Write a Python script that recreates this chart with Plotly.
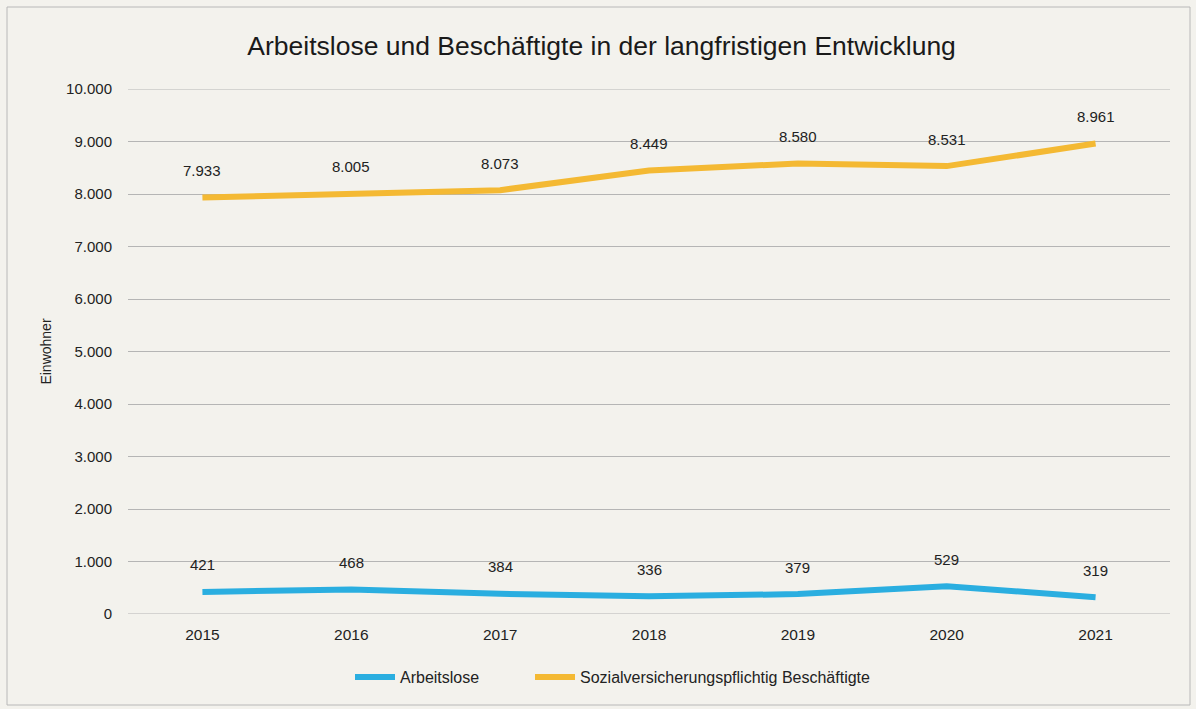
import plotly.graph_objects as go

years = ["2015", "2016", "2017", "2018", "2019", "2020", "2021"]
arbeitslose = [421, 468, 384, 336, 379, 529, 319]
beschaeftigte = [7933, 8005, 8073, 8449, 8580, 8531, 8961]
y_ticks = [0, 1000, 2000, 3000, 4000, 5000, 6000, 7000, 8000, 9000, 10000]


def de_fmt(v):
    return f"{v:,}".replace(",", ".")


W, H = 1196, 709
L, R, T, B = 128, 26, 89, 95

blue = "#2aaee0"
yellow = "#f4b933"
grid = "#b5b5b5"

fig = go.Figure()
fig.add_trace(go.Scatter(x=years, y=arbeitslose, mode="lines", name="Arbeitslose",
                         line=dict(color=blue, width=6), legend="legend"))
fig.add_trace(go.Scatter(x=years, y=beschaeftigte, mode="lines",
                         name="Sozialversicherungspflichtig Beschäftigte",
                         line=dict(color=yellow, width=6), legend="legend2"))

# value labels above each point (category index as x position)
annotations = []
for series in (arbeitslose, beschaeftigte):
    for i, v in enumerate(series):
        annotations.append(dict(x=i, y=v, xref="x", yref="y", text=de_fmt(v),
                                showarrow=False, yshift=27,
                                font=dict(size=15, color="#222")))

pw = W - L - R
ph = H - T - B
shapes = [
    # thin frame around the chart area
    dict(type="rect", xref="paper", yref="paper",
         x0=(7 - L) / pw, x1=(W - 6 - L) / pw,
         y0=-(H - 4 - T - ph) / ph, y1=(H - 7 - B) / ph,
         line=dict(color="#b8b8b8", width=1)),
]
# gridlines at both ends of the value range
for v in (y_ticks[0], y_ticks[-1]):
    shapes.append(dict(type="line", xref="paper", yref="y", x0=0, x1=1, y0=v, y1=v,
                       line=dict(color=grid, width=1), layer="below"))

legend_common = dict(orientation="h", xanchor="left", y=-0.12, yanchor="middle",
                     font=dict(size=16, color="#222"), bgcolor="rgba(0,0,0,0)",
                     itemwidth=40)

fig.update_layout(
    width=W, height=H,
    margin=dict(l=L, r=R, t=T, b=B),
    paper_bgcolor="#f3f2ed", plot_bgcolor="#f3f2ed",
    font=dict(family="Liberation Sans, Arial, sans-serif", color="#222"),
    title=dict(text="Arbeitslose und Beschäftigte in der langfristigen Entwicklung",
               x=0.503, xanchor="center", y=0.935, yanchor="middle",
               font=dict(size=26.5, color="#1a1a1a")),
    xaxis=dict(type="category", range=[-0.5, len(years) - 0.5], autorange=False,
               showgrid=False, zeroline=False, showline=False,
               ticks="", ticklabelstandoff=9,
               tickfont=dict(size=15.5, color="#222")),
    yaxis=dict(range=[0, 10000], autorange=False, tickvals=y_ticks,
               ticktext=[de_fmt(v) for v in y_ticks],
               showgrid=True, gridcolor=grid, gridwidth=1,
               zeroline=False, showline=False, ticks="", ticklabelstandoff=15,
               tickfont=dict(size=15, color="#222"),
               title=dict(text="Einwohner", font=dict(size=14, color="#222"), standoff=11)),
    legend=dict(x=(350 - L) / pw, **legend_common),
    legend2=dict(x=(530 - L) / pw, **legend_common),
    annotations=annotations,
    shapes=shapes,
    showlegend=True,
)

fig.write_html("out.html")
